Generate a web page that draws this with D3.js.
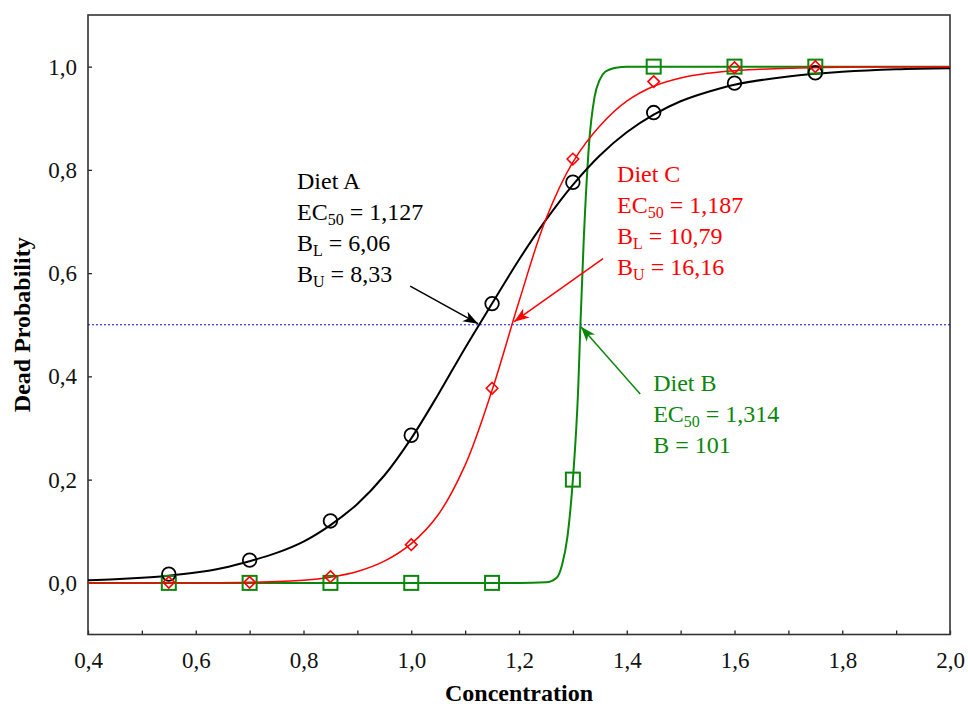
<!DOCTYPE html>
<html>
<head>
<meta charset="utf-8">
<script src="https://cdn.jsdelivr.net/npm/d3@7"></script>
<style>
  body { margin: 0; background: #fff; overflow: hidden; }
  svg { display: block; }
  text { font-family: "Liberation Serif", "Times New Roman", serif; }
</style>
</head>
<body>
<svg id="chart"></svg>
<script>
// observed data
const concentration = [0.55, 0.70, 0.85, 1.00, 1.15, 1.30, 1.45, 1.60, 1.75];
const dietA = [0.017, 0.044, 0.120, 0.286, 0.541, 0.776, 0.911, 0.968, 0.988];
const dietB = [0, 0, 0, 0, 0, 0.2, 1, 1, 1];
const dietC = [0.001, 0.001, 0.012, 0.074, 0.377, 0.821, 0.971, 0.998, 1.0];

// fitted curves: [concentration, probability]
const fitA = [[0.40, 0.005], [0.45, 0.007], [0.50, 0.010], [0.55, 0.014], [0.60, 0.020],
  [0.65, 0.029], [0.70, 0.042], [0.75, 0.058], [0.80, 0.080], [0.85, 0.112], [0.90, 0.153],
  [0.95, 0.208], [1.00, 0.280], [1.05, 0.365], [1.10, 0.455], [1.15, 0.541], [1.20, 0.626],
  [1.25, 0.703], [1.30, 0.771], [1.35, 0.828], [1.40, 0.873], [1.45, 0.907], [1.50, 0.933],
  [1.55, 0.951], [1.60, 0.965], [1.70, 0.981], [1.80, 0.990], [1.90, 0.995], [2.00, 0.997]];
const fitB = [[0.40, 0], [1.20, 0], [1.25, 0.001], [1.27, 0.01], [1.28, 0.035], [1.29, 0.09],
  [1.30, 0.2], [1.31, 0.38], [1.314, 0.5], [1.32, 0.66], [1.33, 0.85], [1.34, 0.94],
  [1.35, 0.975], [1.36, 0.99], [1.38, 0.998], [1.40, 1.0], [2.00, 1.0]];
const fitC = [[0.40, 0], [0.60, 0], [0.70, 0.001], [0.80, 0.005], [0.85, 0.011], [0.90, 0.022],
  [0.95, 0.042], [1.00, 0.076], [1.05, 0.132], [1.10, 0.228], [1.15, 0.373], [1.20, 0.545],
  [1.25, 0.705], [1.30, 0.815], [1.35, 0.885], [1.40, 0.933], [1.45, 0.962], [1.50, 0.978],
  [1.55, 0.987], [1.60, 0.992], [1.70, 0.997], [1.80, 0.999], [2.00, 1.0]];

const xTicks = [0.4, 0.6, 0.8, 1.0, 1.2, 1.4, 1.6, 1.8, 2.0];
const xMinorTicks = [0.5, 0.7, 0.9, 1.1, 1.3, 1.5, 1.7, 1.9];
const yTicks = [0.0, 0.2, 0.4, 0.6, 0.8, 1.0];

// annotation texts: [main, subscript, rest]
const labelA = [['Diet A', '', ''], ['EC', '50', ' = 1,127'], ['B', 'L', ' = 6,06'], ['B', 'U', ' = 8,33']];
const labelB = [['Diet B', '', ''], ['EC', '50', ' = 1,314'], ['B = 101', '', '']];
const labelC = [['Diet C', '', ''], ['EC', '50', ' = 1,187'], ['B', 'L', ' = 10,79'], ['B', 'U', ' = 16,16']];

const width = 968, height = 708;
const margin = { top: 15, right: 18, bottom: 73.5, left: 88 };
const innerWidth = width - margin.left - margin.right;
const innerHeight = height - margin.top - margin.bottom;

const svg = d3.select('#chart')
  .attr('width', width)
  .attr('height', height);

const g = svg.append('g')
  .attr('transform', `translate(${margin.left}, ${margin.top})`);

const x = d3.scaleLinear().domain([0.4, 2.0]).range([0, innerWidth]);
const y = d3.scaleLinear().domain([-0.1, 1.1]).range([innerHeight, 0]);
const fmt = d => d3.format('.1f')(d).replace('.', ',');

// axes with inward ticks
g.append('g')
  .attr('transform', `translate(0, ${innerHeight})`)
  .call(d3.axisBottom(x).tickValues(xTicks).tickFormat(fmt).tickSizeInner(-4).tickSizeOuter(0).tickPadding(17));
const minor = g.append('g')
  .attr('transform', `translate(0, ${innerHeight})`)
  .call(d3.axisBottom(x).tickValues(xMinorTicks).tickSizeInner(-4).tickSizeOuter(0));
minor.selectAll('.tick text').remove();
g.append('g')
  .call(d3.axisLeft(y).tickValues(yTicks).tickFormat(fmt).tickSizeInner(-4).tickSizeOuter(0).tickPadding(11));

g.selectAll('.tick line').attr('stroke', '#222').attr('stroke-width', 1.3);
g.selectAll('.domain').remove();
g.selectAll('.tick text')
  .attr('font-family', '"Liberation Serif", "Times New Roman", serif')
  .attr('font-size', 23)
  .attr('fill', '#111');

// frame
g.append('rect')
  .attr('width', innerWidth)
  .attr('height', innerHeight)
  .attr('fill', 'none')
  .attr('stroke', '#333')
  .attr('stroke-width', 1.6);

// 50% reference line
g.append('line')
  .attr('x1', 0).attr('x2', innerWidth)
  .attr('y1', y(0.5)).attr('y2', y(0.5))
  .attr('stroke', '#1010c8')
  .attr('stroke-width', 1.2)
  .attr('stroke-dasharray', '2,2');

const plot = g.append('g');
const smooth = d3.line().x(d => x(d[0])).y(d => y(d[1])).curve(d3.curveCatmullRom.alpha(0.5));
const steep = d3.line().x(d => x(d[0])).y(d => y(d[1])).curve(d3.curveMonotoneX);

plot.append('path').datum(fitB).attr('d', steep)
  .attr('fill', 'none').attr('stroke', '#0a870a').attr('stroke-width', 2);
plot.append('path').datum(fitA).attr('d', smooth)
  .attr('fill', 'none').attr('stroke', '#000').attr('stroke-width', 2);
plot.append('path').datum(fitC).attr('d', smooth)
  .attr('fill', 'none').attr('stroke', '#ff0000').attr('stroke-width', 1.5);

// markers
plot.selectAll('.sq').data(dietB).enter().append('rect')
  .attr('x', (d, i) => x(concentration[i]) - 7)
  .attr('y', d => y(d) - 7)
  .attr('width', 14).attr('height', 14)
  .attr('fill', 'none').attr('stroke', '#0a870a').attr('stroke-width', 2);

plot.selectAll('.ci').data(dietA).enter().append('circle')
  .attr('cx', (d, i) => x(concentration[i]))
  .attr('cy', d => y(d))
  .attr('r', 6.8)
  .attr('fill', 'none').attr('stroke', '#000').attr('stroke-width', 1.8);

const dm = d3.symbol().type(d3.symbolDiamond2).size(85);
plot.selectAll('.di').data(dietC).enter().append('path')
  .attr('d', dm)
  .attr('transform', (d, i) => `translate(${x(concentration[i])}, ${y(d)})`)
  .attr('fill', 'none').attr('stroke', '#ff0000').attr('stroke-width', 1.6);

// annotations
const defs = svg.append('defs');
function arrowHead(id, color) {
  defs.append('marker')
    .attr('id', id)
    .attr('viewBox', '-16 -7 18 14')
    .attr('refX', 0).attr('refY', 0)
    .attr('markerWidth', 18).attr('markerHeight', 14)
    .attr('markerUnits', 'userSpaceOnUse')
    .attr('orient', 'auto')
    .append('path')
    .attr('d', 'M0,0 L-15,-5.5 L-11,0 L-15,5.5 Z')
    .attr('fill', color);
}
arrowHead('headA', '#000');
arrowHead('headB', '#0a870a');
arrowHead('headC', '#ff0000');

function annotate(lines, px, py, color, arrow, head) {
  lines.forEach((l, i) => {
    const row = g.append('text')
      .attr('x', x(px))
      .attr('y', y(py) - margin.top + i * 31)
      .attr('fill', color)
      .attr('font-size', 24)
      .text(l[0]);
    if (l[1]) {
      row.append('tspan').attr('font-size', 16).attr('dy', 5).text(l[1]);
      row.append('tspan').attr('dy', -5).text(l[2]);
    }
  });
  g.append('line')
    .attr('x1', x(arrow[0])).attr('y1', y(arrow[1]))
    .attr('x2', x(arrow[2])).attr('y2', y(arrow[3]))
    .attr('stroke', color).attr('stroke-width', 1.5)
    .attr('marker-end', `url(#${head})`);
}

annotate(labelA, 0.788, 0.733, '#000', [0.998, 0.575, 1.124, 0.502], 'headA');
annotate(labelC, 1.382, 0.747, '#ff0000', [1.356, 0.628, 1.191, 0.506], 'headC');
annotate(labelB, 1.449, 0.343, '#0a870a', [1.425, 0.366, 1.315, 0.496], 'headB');

// axis titles
svg.append('text')
  .attr('x', margin.left + innerWidth / 2)
  .attr('y', 701)
  .attr('text-anchor', 'middle')
  .attr('font-weight', 'bold')
  .attr('font-size', 24)
  .text('Concentration');

svg.append('text')
  .attr('transform', `translate(30, ${margin.top + y(0.5)}) rotate(-90)`)
  .attr('text-anchor', 'middle')
  .attr('font-weight', 'bold')
  .attr('font-size', 24)
  .text('Dead Probability');
</script>
</body>
</html>
